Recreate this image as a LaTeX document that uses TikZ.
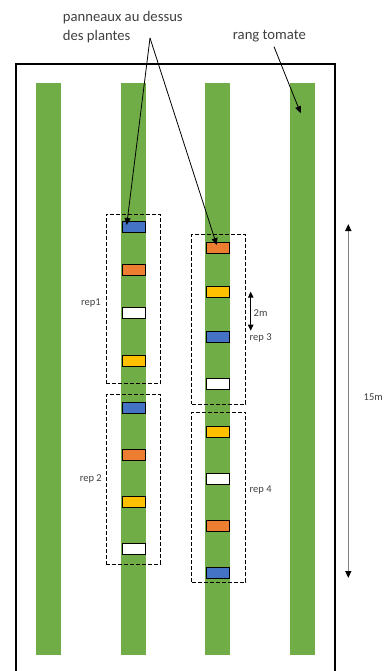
\documentclass[tikz,border=0pt]{standalone}
\usepackage{fontspec}
\setmainfont{Carlito}
\usetikzlibrary{arrows.meta}
\definecolor{rowgreen}{HTML}{70AD47}
\definecolor{pblue}{HTML}{4472C4}
\definecolor{porange}{HTML}{ED7D31}
\definecolor{pyellow}{HTML}{FFC000}
\definecolor{lblgray}{HTML}{404040}
\definecolor{dimgray}{HTML}{808080}
\begin{document}
\begin{tikzpicture}[x=1pt,y=-1pt,
  strip/.style={fill=rowgreen,draw=none,inner sep=0,minimum width=25pt,minimum height=572pt},
  panel/.style={draw=black,line width=1pt,inner sep=0,minimum width=23pt,minimum height=11pt},
  repbox/.style={draw=black,line width=0.9pt,dash pattern=on 4pt off 2pt,inner sep=0,minimum width=54pt,minimum height=170pt},
  biglabel/.style={font=\fontsize{14.67}{19}\selectfont,text=lblgray,inner sep=0,align=left},
  smalllabel/.style={font=\fontsize{10.5}{12}\selectfont,text=lblgray,inner sep=0},
  arr/.style={black,line width=0.8pt,-{Triangle[length=7pt,width=6pt]}},
  dimarr/.style={line width=1.4pt,{Triangle[length=7pt,width=6pt,color=black]}-{Triangle[length=7pt,width=6pt,color=black]}}
]
\useasboundingbox (0,0) rectangle (391,671);
\fill[white] (0,0) rectangle (391,671);

% field border
\draw[line width=1.3pt] (16,675) -- (16,64) -- (335,64) -- (335,675);

% tomato rows
\node[strip] (r1) at (48.5,369) {};
\node[strip] (r2) at (133.5,369) {};
\node[strip] (r3) at (217.5,369) {};
\node[strip] (r4) at (302.5,369) {};

% replicate boxes
\node[repbox,minimum height=169.7pt] (rep1box) at (133.3,298.85) {};
\node[repbox,minimum height=169.6pt] (rep2box) at (133.3,479.5) {};
\node[repbox,minimum height=169.7pt] (rep3box) at (218.7,319.15) {};
\node[repbox,minimum height=170pt] (rep4box) at (218.7,497.3) {};

% panels rep1
\node[panel,fill=pblue] (a1) at (133.5,226.8) {};
\node[panel,fill=porange] (a2) at (133.5,270) {};
\node[panel,fill=white] (a3) at (133.5,313.3) {};
\node[panel,fill=pyellow] (a4) at (133.5,360.8) {};
% panels rep2
\node[panel,fill=pblue] (b1) at (133.5,408.2) {};
\node[panel,fill=porange] (b2) at (133.5,455.2) {};
\node[panel,fill=pyellow] (b3) at (133.5,502.2) {};
\node[panel,fill=white] (b4) at (133.5,549.3) {};
% panels rep3
\node[panel,fill=porange] (c1) at (218,247.8) {};
\node[panel,fill=pyellow] (c2) at (218,291.7) {};
\node[panel,fill=pblue] (c3) at (218,337.2) {};
\node[panel,fill=white] (c4) at (218,384.2) {};
% panels rep4
\node[panel,fill=pyellow] (d1) at (218,431.5) {};
\node[panel,fill=white] (d2) at (218,478.7) {};
\node[panel,fill=porange] (d3) at (218,526) {};
\node[panel,fill=pblue] (d4) at (218,573.2) {};

% labels
\node[smalllabel,anchor=east] (l1) at (101,303) {rep1};
\node[smalllabel,anchor=east] (l2) at (102,479) {rep 2};
\node[smalllabel,anchor=west] (l3) at (249.5,338) {rep 3};
\node[smalllabel,anchor=west] (l4) at (249.5,490) {rep 4};
\node[smalllabel,anchor=west] (l2m) at (253.5,313) {2m};
\node[smalllabel,anchor=west] (l15) at (363.5,397) {15m};

\node[biglabel,anchor=north west] (pan) at (62.7,11) {panneaux au dessus\\des plantes};
\node[biglabel,anchor=north west] (rang) at (232.7,30.3) {rang tomate};

% pointer arrows
\coordinate (pstart) at (150,38);
\draw[arr] (pstart) -- ([xshift=-6.8pt,yshift=1.8pt]a1.center);
\draw[arr] (pstart) -- ([xshift=-1.3pt,yshift=2.8pt]c1.center);
\coordinate (rstart) at (274,46.7);
\draw[arr] (rstart) -- ([xshift=-1.8pt]r4.center |- 0,113.3);

% dimension arrows
\coordinate (m2a) at (250.7,291.7);
\coordinate (m2b) at (250.7,330.7);
\draw[line width=1pt,{Triangle[length=6pt,width=5.5pt]}-{Triangle[length=6pt,width=5.5pt]}] (m2a) -- (m2b);
\coordinate (m15a) at (348.3,224);
\coordinate (m15b) at (348.3,578);
\draw[dimgray,dimarr] (m15a) -- (m15b);
\end{tikzpicture}
\end{document}
